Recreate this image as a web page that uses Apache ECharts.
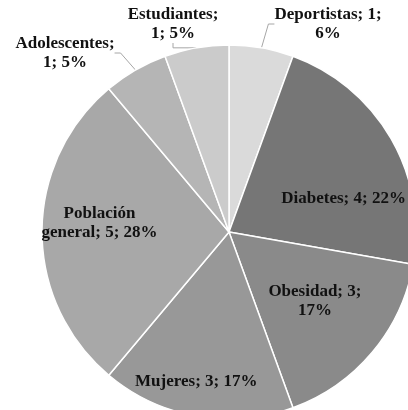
<!DOCTYPE html>
<html>
<head>
<meta charset="utf-8">
<script src="https://cdn.jsdelivr.net/npm/echarts@6/dist/echarts.min.js"></script>
<style>html,body{margin:0;padding:0;background:#fff;}#c{width:408px;height:410px;}</style>
</head>
<body>
<div id="c"></div>
<script>
const categories = ['Deportistas', 'Diabetes', 'Obesidad', 'Mujeres', 'Población general', 'Adolescentes', 'Estudiantes'];
const values = [1, 4, 3, 3, 5, 1, 1];
const colors = ['#dadada', '#767676', '#8a8a8a', '#989898', '#a8a8a8', '#b5b5b5', '#cbcbcb'];

const chart = echarts.init(document.getElementById('c'), null, {renderer: 'canvas'});

const insideShift = {1: [31, 15], 2: [12, 7], 3: [-16, 55], 4: [-33, -9]};
const outsidePos = {0: [328, 24], 5: [65, 53], 6: [173, 24]};

chart.setOption({
  animation: false,
  series: [{
    type: 'pie',
    center: [229, 232],
    radius: 187,
    startAngle: 90,
    clockwise: true,
    percentPrecision: 0,
    itemStyle: {borderColor: '#ffffff', borderWidth: 1.5},
    data: categories.map((n, i) => {
      const outside = i in outsidePos;
      return {
        name: n,
        value: values[i],
        itemStyle: {color: colors[i]},
        label: {
          position: outside ? 'outside' : 'inside',
          overflow: 'none'
        },
        labelLine: {show: outside, length: 12, length2: 6, smooth: false,
          lineStyle: {color: '#a6a6a6', width: 1}}
      };
    }),
    label: {
      show: true,
      alignTo: 'none',
      edgeDistance: 0,
      fontFamily: '"Liberation Serif", "Times New Roman", serif',
      fontWeight: 'bold',
      fontSize: 17,
      lineHeight: 19,
      color: '#111111',
      align: 'center',
      formatter: function (p) {
        const pct = Math.round(p.percent);
        const i = p.dataIndex;
        if (i === 0 || i === 2) return p.name + '; ' + p.value + ';\n' + pct + '%';
        if (i === 4) return 'Población\ngeneral; ' + p.value + '; ' + pct + '%';
        if (i === 5 || i === 6) return p.name + ';\n' + p.value + '; ' + pct + '%';
        return p.name + '; ' + p.value + '; ' + pct + '%';
      }
    },
    labelLayout: function (params) {
      const i = params.dataIndex;
      if (i in insideShift) {
        return {dx: insideShift[i][0], dy: insideShift[i][1]};
      }
      if (i in outsidePos) {
        return {x: outsidePos[i][0], y: outsidePos[i][1], align: 'center', verticalAlign: 'middle'};
      }
      return {};
    }
  }]
});
</script>
</body>
</html>
